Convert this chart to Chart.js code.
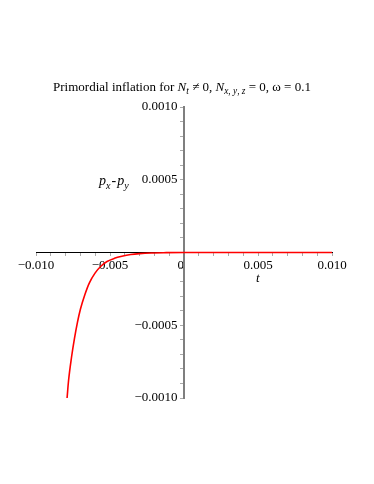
<!DOCTYPE html>
<html><head><meta charset="utf-8">
<script src="https://cdn.jsdelivr.net/npm/chart.js@4"></script>
<style>
html,body{margin:0;padding:0;background:#fff;}
#wrap{position:relative;width:374px;height:484px;overflow:hidden;}
canvas{position:absolute;left:0;top:0;}
.lbl{position:absolute;font-family:"Liberation Serif","Times New Roman",serif;color:#000;white-space:nowrap;line-height:1;}
.lbl sub{font-size:72%;vertical-align:-0.35em;line-height:0;}
</style></head><body>
<div id="wrap">
<canvas id="c" width="374" height="484"></canvas>
<div class="lbl" id="title" style="left:0;width:364px;text-align:center;top:80px;font-size:13px;">Primordial inflation for <i>N</i><sub><i>t</i></sub> ≠ 0, <i>N</i><sub><i>x</i>, <i>y</i>, <i>z</i></sub> = 0, ω = 0.1</div>
<div class="lbl" id="ylab" style="left:99px;top:174px;font-size:14px;"><i>p</i><sub><i>x</i></sub><span style="margin:0 1px 0 1px">-</span><i>p</i><sub><i>y</i></sub></div>
<div class="lbl" id="xlab" style="left:256px;top:271px;font-size:13px;"><i>t</i></div>
</div>
<script>
const tValues = [-0.0079, -0.0078, -0.0076, -0.0074, -0.0072, -0.0070, -0.0067, -0.0064, -0.0060, -0.0056, -0.0052, -0.0047, -0.0042, -0.0036, -0.0030, -0.0022, -0.0012, 0, 0.005, 0.010];
const pDiff  = [-0.00100, -0.00088, -0.00072, -0.00059, -0.00048, -0.00039, -0.00029, -0.00021, -0.00014, -0.000093, -0.000062, -0.000040, -0.000026, -0.000014, -0.0000075, -0.000003, -0.000001, 0, 0, 0];
const xTickLabels = {"-10":"\u22120.010","-5":"\u22120.005","0":"0\u2002","5":"0.005","10":"0.010"};
const yTickLabels = {"-10":"\u22120.0010","-5":"\u22120.0005","5":"0.0005","10":"0.0010"};
const yLabelGap = "\u2002";

const pts = tValues.map((t,i)=>({x:t,y:pDiff[i]}));
const tickFont = {family:"'Liberation Serif','Times New Roman',serif", size:13};

new Chart(document.getElementById('c'), {
  type:'line',
  data:{datasets:[{data:pts, borderColor:'#ff0000', borderWidth:1.6, pointRadius:0, fill:false, cubicInterpolationMode:'monotone', clip:6}]},
  options:{
    responsive:false, devicePixelRatio:1, animation:false,
    layout:{padding:{left:36,right:42,top:107,bottom:86}},
    plugins:{legend:{display:false}, tooltip:{enabled:false}, title:{display:false}},
    scales:{
      x:{type:'linear', min:-0.01, max:0.01, position:{y:0},
        border:{color:'#000', width:1},
        grid:{display:true, drawOnChartArea:false, drawTicks:true, tickLength:3, color:'#aaa'},
        ticks:{stepSize:0.001, autoSkip:false, maxRotation:0, minRotation:0, padding:2, color:'#000', font:tickFont,
          callback:(v)=>{const n=Math.round(v*1000); return xTickLabels[String(n)]||'';}}},
      y:{type:'linear', min:-0.001, max:0.001, position:{x:0},
        border:{color:'#7f7f7f', width:2},
        grid:{display:true, drawOnChartArea:false, drawTicks:true, tickLength:3, color:'#aaa'},
        ticks:{stepSize:0.0001, autoSkip:false, padding:3, color:'#000', font:tickFont,
          callback:(v)=>{const n=Math.round(v*10000); const s=yTickLabels[String(n)]; return s ? s+yLabelGap : '';}}}
    }
  }
});
</script>
</body></html>
